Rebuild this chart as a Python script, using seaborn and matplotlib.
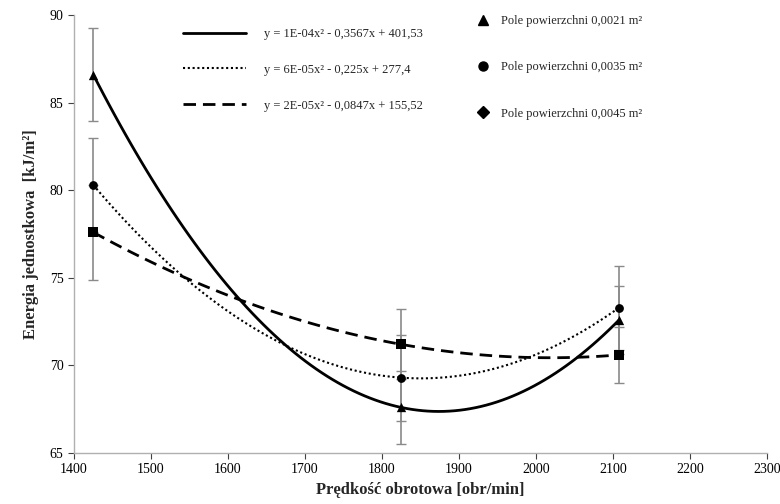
import matplotlib
matplotlib.use("Agg")
import matplotlib.pyplot as plt
from matplotlib.lines import Line2D
import seaborn as sns
import numpy as np

# ---- data ----
speed = [1425, 1825, 2108]
e_0021 = [86.6, 67.6, 72.6]
err_0021 = [2.65, 2.1, 1.95]
e_0035 = [80.3, 69.3, 73.3]
err_0035 = [2.7, 2.45, 2.4]
e_0045 = [77.6, 71.2, 70.6]
err_0045 = [2.7, 2.0, 1.6]

eq_labels = ["y = 1E-04x² - 0,3567x + 401,53",
             "y = 6E-05x² - 0,225x + 277,4",
             "y = 2E-05x² - 0,0847x + 155,52"]
area_labels = ["Pole powierzchni 0,0021 m²",
               "Pole powierzchni 0,0035 m²",
               "Pole powierzchni 0,0045 m²"]
x_ticks = [1400, 1500, 1600, 1700, 1800, 1900, 2000, 2100, 2200, 2300]
y_ticks = [65, 70, 75, 80, 85, 90]

sns.set_style("white")
plt.rcParams['font.family'] = ['Liberation Serif', 'DejaVu Serif']

fig = plt.figure(figsize=(7.8, 5.04), dpi=100)
ax = fig.add_axes([74/780, (504-453)/504, 693/780, 438/504])

series = [(e_0021, err_0021, '-', 2.0, '^', 45),
          (e_0035, err_0035, (0, (1, 1.3)), 1.5, 'o', 40),
          (e_0045, err_0045, (0, (4.5, 2.5)), 2.0, 's', 45)]

for vals, errs, ls, lw, mk, ms in series:
    ax.errorbar(speed, vals, yerr=errs, fmt='none', ecolor='#8a8a8a',
                elinewidth=1.2, capsize=3.5, capthick=1.0, zorder=1)
    sns.regplot(x=speed, y=vals, order=2, ci=None, scatter=False, ax=ax,
                color='black', line_kws=dict(lw=lw, ls=ls, zorder=2))
    sns.scatterplot(x=speed, y=vals, marker=mk, s=ms, color='black',
                    edgecolor='black', linewidth=0, ax=ax, zorder=3)

ax.set_xlim(1400, 2300)
ax.set_ylim(65, 90)
ax.set_xticks(x_ticks)
ax.set_yticks(y_ticks)
ax.tick_params(axis='both', labelsize=10, colors='#404040', length=4,
               direction='out', bottom=True, left=True)
for lab in ax.get_xticklabels() + ax.get_yticklabels():
    lab.set_color('black')
for s in ['top', 'right']:
    ax.spines[s].set_visible(False)
for s in ['left', 'bottom']:
    ax.spines[s].set_color('#b0b0b0')
    ax.spines[s].set_linewidth(1.0)

ax.set_xlabel("Prędkość obrotowa [obr/min]", fontsize=12, fontweight='bold')
ax.set_ylabel("Energia jednostkowa  [kJ/m²]", fontsize=12, fontweight='bold',
              labelpad=8)

# legend 1: trendline equations
line_handles = [Line2D([0], [0], color='black', lw=lw, ls=ls)
                for _, _, ls, lw, _, _ in series]
leg1 = ax.legend(line_handles, eq_labels, loc='upper left',
                 bbox_to_anchor=((183-74)/693, 1 - (13)/438),
                 frameon=False, fontsize=9, handlelength=5.0,
                 handletextpad=1.5, labelspacing=1.9, borderpad=0,
                 borderaxespad=0)
ax.add_artist(leg1)

mk_handles = [Line2D([0], [0], color='black', lw=0, marker=m, markersize=ms_)
              for m, ms_ in [('^', 7), ('o', 6.5), ('D', 6.5)]]
leg2 = ax.legend(mk_handles, area_labels, loc='upper left',
                 bbox_to_anchor=((477-74)/693, 1 - (0)/438),
                 frameon=False, fontsize=9, handlelength=1.0,
                 handletextpad=0.9, labelspacing=2.75, borderpad=0,
                 borderaxespad=0)

fig.savefig("out.png", dpi=100)
